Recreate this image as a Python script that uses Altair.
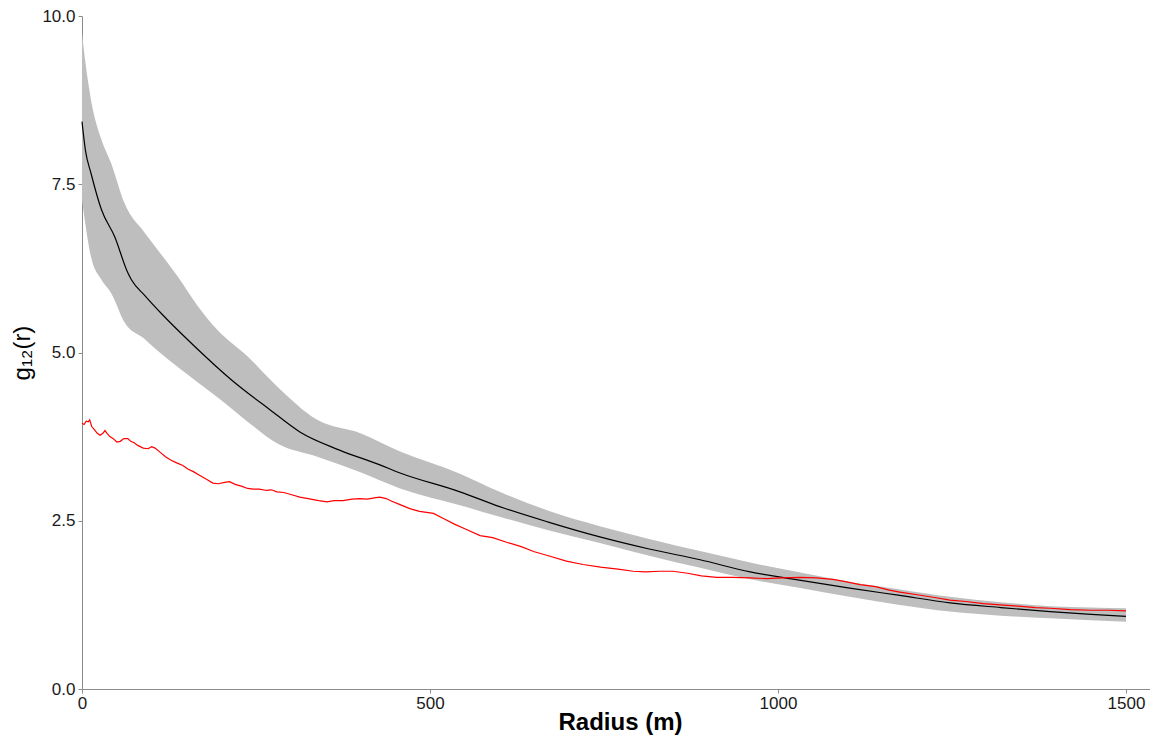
import altair as alt
import pandas as pd

# Simulation envelope (grey band)
band_r = [0, 5, 13, 28, 42, 61, 90, 107, 138, 167, 195, 237, 280, 338, 400, 457, 543, 600, 670, 744,
          815, 888, 960, 1032, 1103, 1175, 1247, 1320, 1391, 1450, 1500]
band_hi = [9.75, 9.3, 8.75, 8.16, 7.81, 7.22, 6.78, 6.55, 6.12, 5.68, 5.33, 4.95, 4.5, 4.0, 3.8, 3.53, 3.2, 2.93,
           2.65, 2.42, 2.23, 2.05, 1.88, 1.73, 1.59, 1.48, 1.37, 1.29, 1.23, 1.21, 1.20]
band_lo = [7.27, 6.9, 6.42, 6.08, 5.88, 5.45, 5.2, 5.04, 4.78, 4.55, 4.33, 3.98, 3.65, 3.45, 3.22, 2.98, 2.73, 2.56,
           2.36, 2.17, 1.98, 1.8, 1.63, 1.5, 1.37, 1.25, 1.15, 1.09, 1.05, 1.02, 1.0]

# Mean of simulations (black line)
mean_r = [0, 5, 13, 28, 47, 66, 71, 90, 114, 162, 214, 270, 313, 370, 428, 457, 543, 600, 670, 744,
          815, 888, 960, 1017, 1103, 1175, 1247, 1320, 1391, 1450, 1500]
mean_g = [8.43, 8.0, 7.66, 7.12, 6.72, 6.18, 6.08, 5.85, 5.58, 5.09, 4.6, 4.15, 3.82, 3.55, 3.33, 3.21, 2.93, 2.71,
          2.48, 2.26, 2.08, 1.92, 1.74, 1.64, 1.50, 1.39, 1.28, 1.21, 1.15, 1.11, 1.08]

# Observed (red line)
obs_r = [0, 3, 6, 9, 11, 14, 18, 22, 26, 30, 33, 36, 40, 45, 50, 55, 60, 66, 70, 75, 80, 88, 95, 100, 105,
         112, 120, 128, 136, 145, 152, 160, 170, 180, 188, 196, 205, 212, 220, 230, 238, 246, 255, 265, 272,
         280, 290, 300, 313, 325, 340, 352, 362, 375, 388, 399, 410, 420, 428, 437, 445, 457, 471, 485, 505,
         520, 535, 550, 572, 590, 610, 630, 650, 670, 696, 720, 745, 770, 792, 810, 830, 849, 870, 890, 912,
         935, 960, 984, 1005, 1032, 1055, 1079, 1095, 1118, 1140, 1160, 1175, 1200, 1225, 1247, 1270, 1295,
         1319, 1345, 1370, 1391, 1420, 1450, 1475, 1500]
obs_g = [3.95, 3.93, 3.98, 3.97, 4.0, 3.9, 3.85, 3.8, 3.77, 3.8, 3.84, 3.8, 3.75, 3.72, 3.67, 3.68, 3.72, 3.72,
         3.68, 3.66, 3.62, 3.58, 3.57, 3.6, 3.58, 3.52, 3.45, 3.4, 3.36, 3.32, 3.27, 3.23, 3.17, 3.11, 3.06,
         3.05, 3.07, 3.08, 3.04, 3.01, 2.98, 2.97, 2.97, 2.95, 2.96, 2.93, 2.92, 2.89, 2.85, 2.83, 2.80, 2.78,
         2.80, 2.80, 2.82, 2.83, 2.82, 2.84, 2.85, 2.83, 2.79, 2.74, 2.68, 2.64, 2.61, 2.53, 2.45, 2.38, 2.28,
         2.25, 2.18, 2.12, 2.04, 1.98, 1.90, 1.85, 1.81, 1.78, 1.75, 1.74, 1.75, 1.75, 1.72, 1.68, 1.66, 1.66,
         1.65, 1.64, 1.65, 1.66, 1.65, 1.63, 1.60, 1.55, 1.52, 1.47, 1.44, 1.40, 1.36, 1.32, 1.30, 1.27, 1.25,
         1.23, 1.21, 1.20, 1.18, 1.17, 1.17, 1.16]

x_ticks = [0, 500, 1000, 1500]
y_ticks = [0, 2.5, 5, 7.5, 10]

band_df = pd.DataFrame({"r": band_r, "lo": band_lo, "hi": band_hi})
mean_df = pd.DataFrame({"r": mean_r, "g": mean_g})
obs_df = pd.DataFrame({"r": obs_r, "g": obs_g})

FONT = "Liberation Sans"
W, H = 1068, 673
X_MAX = W / 0.696

x_scale = alt.Scale(domain=[0, X_MAX], nice=False, zero=False)
y_scale = alt.Scale(domain=[0, 10], nice=False)

x_axis = alt.Axis(values=x_ticks, format="d", title="Radius (m)", grid=False,
                  domainColor="#8c8c8c", tickColor="#8c8c8c", tickSize=4, labelPadding=2,
                  labelFontSize=17, labelColor="#1a1a1a", labelFont=FONT,
                  titleFont=FONT, titleFontSize=24, titleFontWeight="bold", titleColor="#000000",
                  titleX=538, titleY=33, titleBaseline="middle", titleAlign="center",
                  labelFlush=False, labelOverlap=False)
y_axis = alt.Axis(values=y_ticks, format=".1f", title="g₁₂(r)", grid=False,
                  domainColor="#8c8c8c", tickColor="#8c8c8c", tickSize=4, labelPadding=3,
                  labelFontSize=17, labelColor="#1a1a1a", labelFont=FONT,
                  titleFont=FONT, titleFontSize=24, titleFontWeight="normal", titleColor="#000000",
                  titleX=-60, titleY=H / 2, titleAngle=-90, titleBaseline="middle", titleAlign="center",
                  labelFlush=False, labelOverlap=False)

band = alt.Chart(band_df).mark_area(color="#bebebe", opacity=1, interpolate="monotone").encode(
    x=alt.X("r:Q", scale=x_scale, axis=x_axis),
    y=alt.Y("lo:Q", scale=y_scale, axis=y_axis),
    y2="hi:Q",
)
mean_line = alt.Chart(mean_df).mark_line(color="#000000", strokeWidth=1.2, interpolate="monotone").encode(
    x=alt.X("r:Q", scale=x_scale),
    y=alt.Y("g:Q", scale=y_scale),
)
obs_line = alt.Chart(obs_df).mark_line(color="#ff0000", strokeWidth=1.2).encode(
    x=alt.X("r:Q", scale=x_scale),
    y=alt.Y("g:Q", scale=y_scale),
)

chart = alt.layer(band, mean_line, obs_line).properties(
    width=W, height=H,
    autosize=alt.AutoSizeParams(type="none"),
    padding={"left": 74, "top": 8, "right": 0, "bottom": 48},
    background="white",
).configure_view(stroke=None)

chart.save("out.html", embed_options={"renderer": "svg", "actions": False})
